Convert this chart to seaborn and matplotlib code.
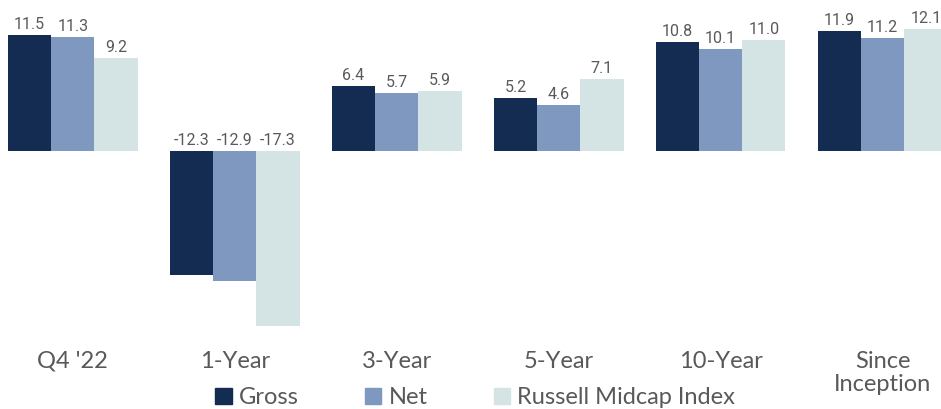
import numpy as np
import pandas as pd
import matplotlib
matplotlib.use('Agg')
import matplotlib.pyplot as plt
import seaborn as sns

periods = ["Q4 '22", '1-Year', '3-Year', '5-Year', '10-Year', 'Since\nInception']
gross = [11.5, -12.3, 6.4, 5.2, 10.8, 11.9]
net = [11.3, -12.9, 5.7, 4.6, 10.1, 11.2]
russell = [9.2, -17.3, 5.9, 7.1, 11.0, 12.1]
series = ['Gross', 'Net', 'Russell Midcap Index']
colors = ['#142c52', '#7f98bf', '#d4e3e3']

df = pd.DataFrame({
    'period': periods * 3,
    'value': gross + net + russell,
    'series': [s for s in series for _ in periods],
})

sns.set_style('white')
plt.rcParams['font.family'] = ['Lato', 'DejaVu Sans']

fig = plt.figure(figsize=(9.41, 4.09), dpi=100)
ax = fig.add_axes([8 / 941, 79 / 409, 1 - 8 / 941, 330 / 409])

sns.barplot(data=df, x='period', y='value', hue='series', palette=colors,
            width=0.8, linewidth=0, saturation=1, ax=ax, legend=False)

# value labels: positives on top of the bar, negatives just above zero
for cont in ax.containers:
    for p in cont:
        h = p.get_height()
        ax.text(p.get_x() + p.get_width() / 2, max(h, 0) + 0.3, f'{h:.1f}',
                ha='center', va='bottom', fontsize=11.5, color='#595959',
                family=['Roboto', 'DejaVu Sans'])

ax.set_xlim(-0.4, 5.36)
ax.set_ylim(-17.72, 14.95)
ax.set_xlabel('')
ax.set_ylabel('')
ax.set_yticks([])
ax.tick_params(axis='x', length=0, pad=15, labelsize=17, labelcolor='#595959')
for lbl in ax.get_xticklabels():
    lbl.set_linespacing(1.1)
for s in ax.spines.values():
    s.set_visible(False)

handles = [plt.Rectangle((0, 0), 1, 1, color=c) for c in colors]
fig.legend(handles, series, loc='lower center', bbox_to_anchor=(0.505, -0.05),
           ncol=3, frameon=False, fontsize=17, labelcolor='#595959',
           handlelength=0.7, handleheight=0.7, handletextpad=0.3,
           columnspacing=2.8)

fig.savefig('out.png', dpi=100)
